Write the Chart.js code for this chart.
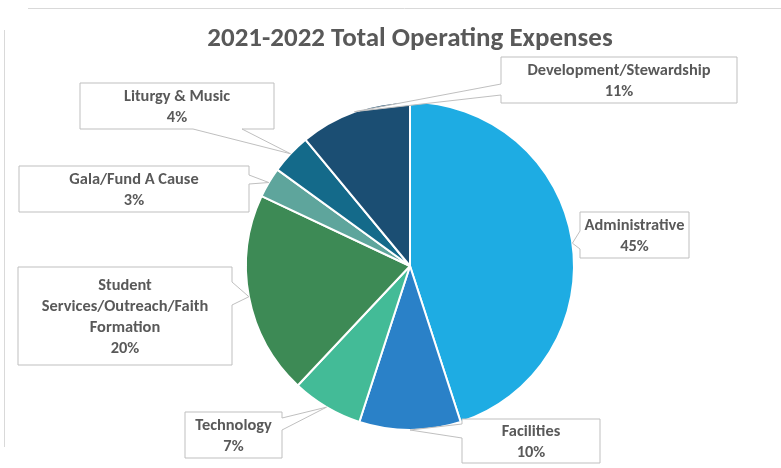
<!DOCTYPE html>
<html>
<head>
<meta charset="utf-8">
<script src="https://cdn.jsdelivr.net/npm/chart.js@4/dist/chart.umd.min.js"></script>
<style>
  html, body { margin: 0; padding: 0; background: #fff; }
  #wrap { width: 781px; height: 468px; position: relative; }
</style>
</head>
<body>
<div id="wrap"><canvas id="chart"></canvas></div>
<script>
// data
const chartTitle = "2021-2022 Total Operating Expenses";
const categories = [
  "Administrative",
  "Facilities",
  "Technology",
  "Student Services/Outreach/Faith Formation",
  "Gala/Fund A Cause",
  "Liturgy & Music",
  "Development/Stewardship"
];
const shares = [45, 10, 7, 20, 3, 4, 11];
const sliceColors = ["#1eace3", "#2a81c8", "#43bb97", "#3d8a55", "#5ea59c", "#146a8a", "#1b4e73"];

// callout boxes (layout only): box, side of the pointer, pointer base, optional anchor angle
const callouts = [
  { x: 580, y: 212, w: 109, h: 46, side: "left", from: 231, to: 249, angle: -8 },
  { x: 462, y: 419, w: 138, h: 44, side: "left", from: 424, to: 438 },
  { x: 185, y: 412, w: 97, h: 46, side: "right", from: 418, to: 430 },
  { x: 18, y: 267, w: 214, h: 98, side: "right", from: 282, to: 305 },
  { x: 19, y: 166, w: 230, h: 46, side: "right", from: 175, to: 184 },
  { x: 80, y: 83, w: 194, h: 46, side: "bottom", from: 193, to: 242 },
  { x: 501, y: 57, w: 236, h: 46, side: "left", from: 84, to: 95 }
];

const textColor = "#595959";
const fontFamily = "Carlito, 'Open Sans', sans-serif";
const titleFont = "bold 27px " + fontFamily;
const labelFont = "bold 16.4px " + fontFamily;

function wrapText(ctx, text, maxW) {
  const words = text.split(" ");
  const lines = [];
  let cur = "";
  for (const w of words) {
    const test = cur ? cur + " " + w : w;
    if (cur && ctx.measureText(test).width > maxW) {
      lines.push(cur);
      cur = w;
    } else {
      cur = test;
    }
  }
  if (cur) lines.push(cur);
  return lines;
}

function calloutPath(ctx, b, tx, ty) {
  const x0 = b.x, y0 = b.y, x1 = b.x + b.w, y1 = b.y + b.h;
  ctx.beginPath();
  ctx.moveTo(x0, y0);
  if (b.side === "top") { ctx.lineTo(b.from, y0); ctx.lineTo(tx, ty); ctx.lineTo(b.to, y0); }
  ctx.lineTo(x1, y0);
  if (b.side === "right") { ctx.lineTo(x1, b.from); ctx.lineTo(tx, ty); ctx.lineTo(x1, b.to); }
  ctx.lineTo(x1, y1);
  if (b.side === "bottom") { ctx.lineTo(b.to, y1); ctx.lineTo(tx, ty); ctx.lineTo(b.from, y1); }
  ctx.lineTo(x0, y1);
  if (b.side === "left") { ctx.lineTo(x0, b.to); ctx.lineTo(tx, ty); ctx.lineTo(x0, b.from); }
  ctx.closePath();
}

// frame lines and the title
const framePlugin = {
  id: "frame",
  beforeDraw(chart) {
    const ctx = chart.ctx;
    ctx.save();
    ctx.strokeStyle = "#d9d9d9";
    ctx.lineWidth = 1;
    ctx.beginPath();
    ctx.moveTo(28, 8.5); ctx.lineTo(781, 8.5);
    ctx.moveTo(4.5, 30); ctx.lineTo(4.5, 447);
    ctx.stroke();

    ctx.font = titleFont;
    ctx.fillStyle = textColor;
    ctx.textAlign = "center";
    ctx.textBaseline = "middle";
    ctx.fillText(chartTitle, 410, 39);
    ctx.restore();
  }
};

const calloutPlugin = {
  id: "callouts",
  afterDatasetsDraw(chart) {
    const ctx = chart.ctx;
    const meta = chart.getDatasetMeta(0);
    const data = chart.data.datasets[0].data;
    const total = data.reduce((a, b) => a + b, 0);
    ctx.save();
    meta.data.forEach((arc, i) => {
      const b = callouts[i];
      const p = arc.getProps(["x", "y", "startAngle", "endAngle", "outerRadius"], true);
      const ang = b.angle !== undefined ? b.angle * Math.PI / 180 : (p.startAngle + p.endAngle) / 2;
      const tx = p.x + Math.cos(ang) * p.outerRadius;
      const ty = p.y + Math.sin(ang) * p.outerRadius;
      calloutPath(ctx, b, tx, ty);
      ctx.fillStyle = "#ffffff";
      ctx.fill();
      ctx.strokeStyle = "#bfbfbf";
      ctx.lineWidth = 1;
      ctx.stroke();

      ctx.font = labelFont;
      ctx.fillStyle = textColor;
      ctx.textAlign = "center";
      ctx.textBaseline = "middle";
      const lines = wrapText(ctx, chart.data.labels[i], b.w - 30);
      lines.push(Math.round(data[i] / total * 100) + "%");
      const lh = 21;
      const cx = b.x + b.w / 2;
      const top = b.y + b.h / 2 + 1.5 - (lines.length - 1) * lh / 2;
      lines.forEach((t, k) => ctx.fillText(t, cx, top + k * lh));
    });
    ctx.restore();
  }
};

new Chart(document.getElementById("chart"), {
  type: "pie",
  data: {
    labels: categories,
    datasets: [{
      data: shares,
      backgroundColor: sliceColors,
      borderColor: "#ffffff",
      borderWidth: 2
    }]
  },
  options: {
    responsive: true,
    maintainAspectRatio: false,
    animation: false,
    events: [],
    layout: {
      padding: { left: 245, right: 206, top: 101, bottom: 37 }
    },
    plugins: {
      legend: { display: false },
      tooltip: { enabled: false },
      title: { display: false }
    }
  },
  plugins: [framePlugin, calloutPlugin]
});
</script>
</body>
</html>
